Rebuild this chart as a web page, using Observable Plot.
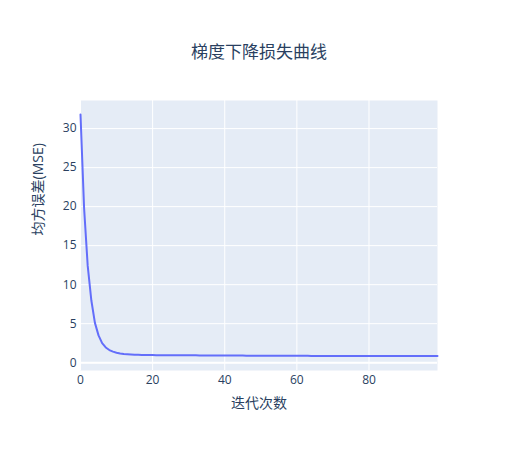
<!DOCTYPE html>
<html>
<head>
<meta charset="utf-8">
<script src="https://cdn.jsdelivr.net/npm/d3@7"></script>
<script src="https://cdn.jsdelivr.net/npm/@observablehq/plot@0.6"></script>
<style>
  html, body { margin: 0; padding: 0; background: #fff; }
  #chart svg { display: block; }
</style>
</head>
<body>
<div id="chart"></div>
<script>
const title = "梯度下降损失曲线";
const xLabel = "迭代次数";
const yLabel = "均方误差(MSE)";
const xTicks = [0, 20, 40, 60, 80];
const yTicks = [0, 5, 10, 15, 20, 25, 30];

// MSE per iteration (0..99)
const mse = [
  31.8, 19.8, 12.4, 8.0, 5.1, 3.5, 2.5, 1.95, 1.62, 1.42,
  1.28, 1.19, 1.12, 1.08, 1.05, 1.03, 1.01, 1.00, 0.99, 0.98,
  0.975, 0.97, 0.97, 0.96, 0.96, 0.96, 0.95, 0.95, 0.95, 0.94,
  0.94, 0.94, 0.94, 0.93, 0.93, 0.93, 0.93, 0.92, 0.92, 0.92,
  0.92, 0.91, 0.91, 0.91, 0.91, 0.91, 0.90, 0.90, 0.90, 0.90,
  0.90, 0.89, 0.89, 0.89, 0.89, 0.89, 0.89, 0.88, 0.88, 0.88,
  0.88, 0.88, 0.88, 0.88, 0.87, 0.87, 0.87, 0.87, 0.87, 0.87,
  0.87, 0.87, 0.86, 0.86, 0.86, 0.86, 0.86, 0.86, 0.86, 0.86,
  0.86, 0.86, 0.86, 0.85, 0.85, 0.85, 0.85, 0.85, 0.85, 0.85,
  0.85, 0.85, 0.85, 0.85, 0.85, 0.85, 0.85, 0.85, 0.85, 0.85
];
const iterations = mse.map((_, i) => i);

const data = iterations.map((it, i) => ({iter: it, mse: mse[i]}));

const textColor = "#2a3f5f";
const font = "'Open Sans', 'Noto Sans CJK SC', sans-serif";

const chart = Plot.plot({
  width: 516,
  height: 450,
  marginLeft: 80,
  marginRight: 79,
  marginTop: 100,
  marginBottom: 80,
  style: {fontFamily: font, fontSize: "12px", color: textColor, background: "#fff"},
  x: {domain: [0, 99], ticks: xTicks, tickSize: 0, tickPadding: 5, label: null},
  y: {domain: [-1.0, 33.6], ticks: yTicks, tickSize: 0, tickPadding: 4, label: null},
  marks: [
    Plot.frame({fill: "#E5ECF6", stroke: "none"}),
    Plot.ruleX(xTicks, {stroke: "white", strokeWidth: 1}),
    Plot.ruleY(yTicks, {stroke: "white", strokeWidth: 1}),
    Plot.ruleY([0], {stroke: "white", strokeWidth: 2}),
    Plot.line(data, {x: "iter", y: "mse", stroke: "#636efa", strokeWidth: 2}),
    Plot.text([title], {text: d => d, frameAnchor: "top", dy: -55, fontSize: 17, fill: textColor}),
    Plot.text([xLabel], {text: d => d, frameAnchor: "bottom", dy: 37, fontSize: 14, fill: textColor}),
    Plot.text([yLabel], {text: d => d, frameAnchor: "left", dx: -42, rotate: -90, fontSize: 14, fill: textColor})
  ]
});
document.getElementById("chart").appendChild(chart);
</script>
</body>
</html>
